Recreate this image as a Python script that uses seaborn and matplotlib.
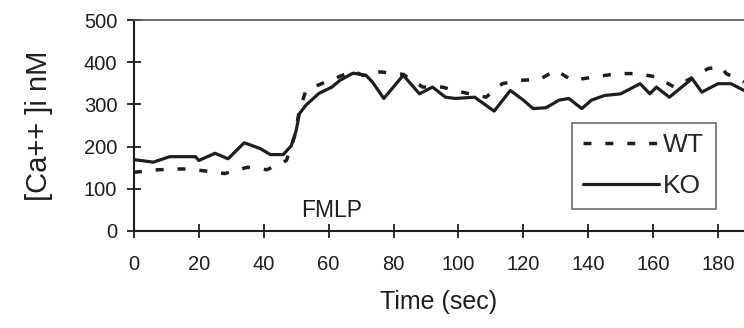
import numpy as np
import pandas as pd
import matplotlib
matplotlib.use('Agg')
import matplotlib.pyplot as plt
import seaborn as sns

# ── Data ──────────────────────────────────────────────────────────────────────
ko_time = [0, 6, 11, 19, 20, 25, 29, 34, 39, 42, 46, 48.5, 50, 51, 53, 57, 61,
           63.5, 67.5, 71.5, 73.5, 77, 83, 88, 92, 96, 99, 105, 111, 116, 120,
           123, 127, 131, 134, 138, 141, 145, 150, 156, 159, 161, 165, 172,
           175, 180, 184, 188]
ko_ca = [169, 163, 176, 176, 167, 184, 171, 209, 195, 181, 181, 202, 238, 278,
         298, 326, 341, 357, 374, 369, 353, 314, 369, 325, 341, 317, 314, 317,
         284, 333, 310, 290, 292, 310, 314, 290, 310, 321, 325, 349, 325, 341,
         317, 361, 329, 349, 349, 333]

wt_time = [0, 7.5, 15, 21, 28, 35, 41, 47, 49.5, 51, 53, 59, 63, 67.5, 70.5,
           76, 83, 89, 95, 101, 108.5, 113.5, 119, 125, 130, 135, 142, 149,
           155, 161, 166.5, 171.5, 177, 181, 182.5, 188]
wt_ca = [139, 145, 147, 143, 136, 151, 145, 167, 224, 286, 333, 353, 365, 379,
         369, 377, 371, 341, 341, 329, 317, 349, 357, 359, 381, 357, 365, 373,
         373, 365, 341, 361, 385, 389, 373, 353]

x_ticks = list(range(0, 181, 20))
y_ticks = list(range(0, 501, 100))

# ── Style ─────────────────────────────────────────────────────────────────────
sns.set_style('ticks')
plt.rcParams['font.family'] = ['Liberation Sans', 'DejaVu Sans']
INK = '#1e1e1e'

fig = plt.figure(figsize=(7.44, 3.28), dpi=100)
ax = fig.add_axes([0.180, 0.296, 0.820, 0.643])

sns.lineplot(x=wt_time, y=wt_ca, ax=ax, color=INK, lw=2.5,
             linestyle=(0, (2.3, 4.0)), label='WT')
sns.lineplot(x=ko_time, y=ko_ca, ax=ax, color=INK, lw=2.3, label='KO')

ax.set_xlim(0, 188)
ax.set_ylim(0, 500)
ax.set_xticks(x_ticks)
ax.set_yticks(y_ticks)
ax.tick_params(direction='inout', length=10, width=1.3, labelsize=14.5,
               colors=INK)
ax.tick_params(axis='x', pad=12)
ax.tick_params(axis='y', pad=7)

ax.spines['right'].set_visible(False)
ax.spines['top'].set_color('#555555')
ax.spines['top'].set_linewidth(1.2)
for s in ['left', 'bottom']:
    ax.spines[s].set_linewidth(1.5)
    ax.spines[s].set_color(INK)

ax.set_xlabel('Time (sec)', fontsize=18, labelpad=12, color=INK)
ax.set_ylabel('[Ca++ ]i nM', fontsize=21, labelpad=22, color=INK)

ax.text(61, 48, 'FMLP', fontsize=16.5, ha='center', va='center', color=INK)

leg = ax.legend(loc='lower left', bbox_to_anchor=(0.718, 0.105, 0.236, 0.433),
                mode='expand', fontsize=19, handlelength=2.9, handletextpad=0.15,
                labelspacing=0.65, borderpad=0.4, fancybox=False,
                frameon=True, borderaxespad=0)
leg.get_frame().set_edgecolor('#555555')
leg.get_frame().set_linewidth(1.3)

fig.savefig('out.png', dpi=100)
